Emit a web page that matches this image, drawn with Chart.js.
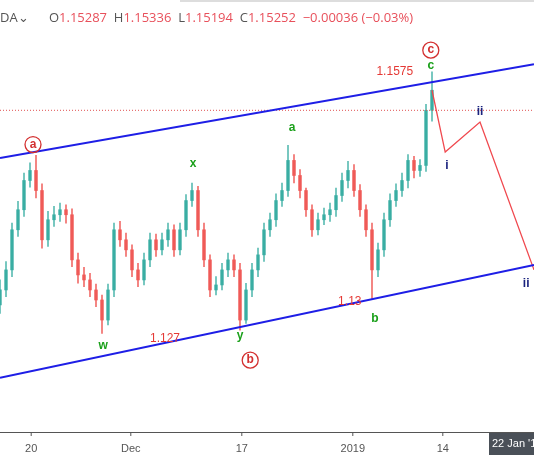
<!DOCTYPE html><html><head><meta charset="utf-8">
<script src="https://cdn.jsdelivr.net/npm/chart.js@4"></script>
<style>body{margin:0;background:#fff;font-family:"Open Sans",sans-serif}#w{position:relative;width:534px;height:462px}
#h{position:absolute;left:0;top:8px;font-size:13px;color:#555;white-space:nowrap}#h span{color:#e8505b}
#sep{position:absolute;left:180px;top:0;width:354px;height:2px;background:#ddd}</style></head><body>
<div id="w"><canvas id="c" width="534" height="462"></canvas><div id="sep"></div>
<div id="h">DA&#8964;&nbsp;&nbsp;&nbsp;&nbsp;&nbsp;&nbsp;O<span>1.15287</span>&nbsp;&nbsp;H<span>1.15336</span>&nbsp;&nbsp;L<span>1.15194</span>&nbsp;&nbsp;C<span>1.15252&nbsp;&nbsp;−0.00036 (−0.03%)</span></div></div>
<script>
const closes=[1.1318,1.1342,1.1390,1.1414,1.1449,1.1461,1.1437,1.1378,1.1402,1.1408,1.1414,1.1408,1.1354,1.1336,1.1330,1.1318,1.1306,1.1282,1.1318,1.1390,1.1378,1.1366,1.1342,1.1330,1.1354,1.1378,1.1366,1.1378,1.1390,1.1366,1.1390,1.1425,1.1437,1.1390,1.1354,1.1318,1.1324,1.1342,1.1354,1.1342,1.1282,1.1318,1.1342,1.1360,1.1390,1.1402,1.1425,1.1437,1.1473,1.1455,1.1437,1.1414,1.1390,1.1402,1.1408,1.1414,1.1431,1.1449,1.1461,1.1437,1.1414,1.1390,1.1342,1.1366,1.1402,1.1425,1.1437,1.1449,1.1473,1.1461,1.1467,1.1533,1.1557];
const firstOpen=1.1300;
const highs=[1.1330,1.1352,1.1398,1.1424,1.1458,1.1470,1.1479,1.1445,1.1412,1.1418,1.1422,1.1420,1.1415,1.1362,1.1345,1.1338,1.1325,1.1312,1.1325,1.1398,1.1400,1.1386,1.1372,1.1350,1.1362,1.1386,1.1385,1.1386,1.1398,1.1396,1.1398,1.1432,1.1446,1.1442,1.1398,1.1360,1.1334,1.1350,1.1362,1.1360,1.1350,1.1326,1.1350,1.1368,1.1398,1.1410,1.1433,1.1446,1.1491,1.1480,1.1462,1.1440,1.1420,1.1410,1.1416,1.1422,1.1440,1.1458,1.1472,1.1468,1.1444,1.1420,1.1398,1.1374,1.1410,1.1433,1.1445,1.1458,1.1480,1.1478,1.1474,1.1540,1.1579];
const lows=[1.1290,1.1310,1.1334,1.1382,1.1406,1.1441,1.1428,1.1368,1.1370,1.1394,1.1400,1.1398,1.1346,1.1326,1.1322,1.1310,1.1298,1.1266,1.1276,1.1310,1.1370,1.1358,1.1334,1.1322,1.1324,1.1346,1.1358,1.1360,1.1370,1.1358,1.1360,1.1382,1.1418,1.1382,1.1346,1.1310,1.1312,1.1318,1.1334,1.1334,1.1270,1.1278,1.1310,1.1334,1.1352,1.1382,1.1394,1.1418,1.1430,1.1446,1.1428,1.1406,1.1382,1.1384,1.1396,1.1400,1.1406,1.1424,1.1440,1.1430,1.1406,1.1382,1.1308,1.1334,1.1358,1.1394,1.1418,1.1430,1.1440,1.1452,1.1454,1.1460,1.1520];
const tickLabels=["20","Dec","17","2019","14"];
const tickPos=[5.2,21.8,40.3,58.8,73.8];
const upperChannel=[{x:0,y:1.1476},{x:89,y:1.1588}];
const lowerChannel=[{x:0,y:1.1213},{x:89,y:1.1348}];
const projection=[{x:72,y:1.1557},{x:74.2,y:1.1483},{x:80,y:1.1519},{x:89,y:1.1342}];
const lastPrice=1.1533;
const waveLabels=[
 {t:"a",x:5.5,y:1.1492,c:"#d32f2f",circ:true},{t:"x",x:32.2,y:1.1469,c:"#1aa01a"},{t:"w",x:17.2,y:1.1251,c:"#1aa01a"},
 {t:"1.127",x:27.5,y:1.1260,c:"#e53935",n:true},{t:"y",x:40,y:1.1263,c:"#1aa01a"},{t:"b",x:41.7,y:1.1234,c:"#d32f2f",circ:true},
 {t:"a",x:48.7,y:1.1512,c:"#1aa01a"},{t:"1.13",x:58.3,y:1.1304,c:"#e53935",n:true},{t:"b",x:62.5,y:1.1284,c:"#1aa01a"},
 {t:"1.1575",x:65.8,y:1.1579,c:"#e53935",n:true},{t:"c",x:71.8,y:1.1586,c:"#1aa01a"},{t:"c",x:71.8,y:1.1605,c:"#d32f2f",circ:true},
 {t:"i",x:74.5,y:1.1467,c:"#1a237e"},{t:"ii",x:80,y:1.1531,c:"#1a237e"},{t:"ii",x:87.7,y:1.1325,c:"#1a237e"}];
const opens=closes.map((c,i)=>i?closes[i-1]:firstOpen);
const col=i=>closes[i]>=opens[i]?"rgba(38,166,154,0.75)":"rgba(239,83,80,0.85)";
const overlay={id:"ov",afterDatasetsDraw(ch){const {ctx,scales:{x,y},chartArea:a}=ch;ctx.save();
 ctx.strokeStyle="#555";ctx.lineWidth=1;ctx.beginPath();ctx.moveTo(0,a.bottom+0.5);ctx.lineTo(534,a.bottom+0.5);ctx.stroke();
 ctx.font="11px 'Liberation Sans'";ctx.fillStyle="#555";ctx.textAlign="center";ctx.textBaseline="middle";
 tickLabels.forEach((t,i)=>{const px=x.getPixelForValue(tickPos[i]);ctx.beginPath();ctx.moveTo(px,a.bottom);ctx.lineTo(px,a.bottom+4);ctx.stroke();ctx.fillText(t,px,a.bottom+17);});
 ctx.fillStyle="#4a5058";ctx.fillRect(489,a.bottom+1,45,22);ctx.fillStyle="#fff";ctx.textAlign="left";ctx.fillText("22 Jan '19",492,a.bottom+12);
 ctx.textAlign="center";
 waveLabels.forEach(l=>{const px=x.getPixelForValue(l.x),py=y.getPixelForValue(l.y);
  ctx.font=(l.n?"12px":"bold 12px")+" 'Liberation Sans'";ctx.fillStyle=l.c;ctx.fillText(l.t,px,py);
  if(l.circ){ctx.strokeStyle=l.c;ctx.lineWidth=1.3;ctx.beginPath();ctx.arc(px,py,8,0,7);ctx.stroke();}});
 ctx.restore();}};
new Chart(document.getElementById("c"),{type:"bar",data:{datasets:[
 {type:"line",data:upperChannel,borderColor:"#1e1ee6",borderWidth:2,pointRadius:0,order:0},
 {type:"line",data:lowerChannel,borderColor:"#1e1ee6",borderWidth:2,pointRadius:0,order:0},
 {type:"line",data:projection,borderColor:"#f0484e",borderWidth:1.3,pointRadius:0,order:0},
 {type:"line",data:[{x:0,y:lastPrice},{x:89,y:lastPrice}],borderColor:"#e05050",borderWidth:1,borderDash:[1,2],pointRadius:0,order:0},
 {data:closes.map((c,i)=>({x:i,y:[lows[i],highs[i]]})),backgroundColor:closes.map((c,i)=>col(i)),barThickness:1,grouped:false,order:2},
 {data:closes.map((c,i)=>({x:i,y:[opens[i],c]})),backgroundColor:closes.map((c,i)=>col(i)),barThickness:3,grouped:false,order:1}
]},options:{animation:false,responsive:false,layout:{padding:{bottom:30,left:0,right:0,top:0}},plugins:{legend:{display:false},tooltip:{enabled:false}},
 scales:{x:{type:"linear",min:0,max:89,offset:false,display:false},y:{min:1.1148,max:1.1665,display:false}}},plugins:[overlay]});
</script></body></html>
